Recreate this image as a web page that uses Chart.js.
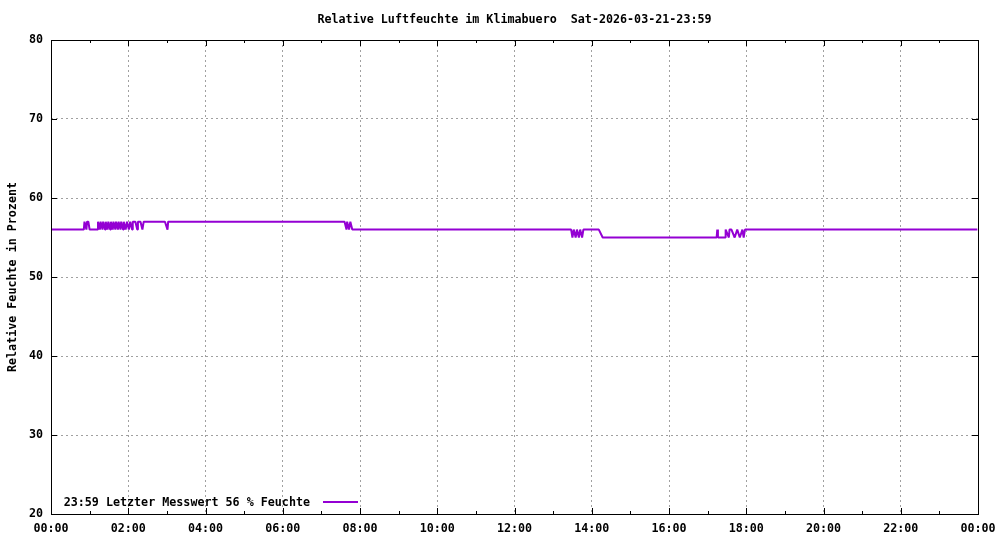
<!DOCTYPE html>
<html>
<head>
<meta charset="utf-8">
<script src="https://cdn.jsdelivr.net/npm/chart.js@4/dist/chart.umd.min.js"></script>
<style>
  html, body { margin: 0; padding: 0; background: #fff; }
  #wrap { width: 1000px; height: 540px; }
</style>
</head>
<body>
<div id="wrap"><canvas id="humChart"></canvas></div>
<script>
const chartTitle = "Relative Luftfeuchte im Klimabuero  Sat-2026-03-21-23:59";
const yTitle = "Relative Feuchte in Prozent";

// minutes since midnight and relative humidity in %
const sampleMinutes = [
  0, 51, 52, 55, 56, 58, 60,
  72, 73, 76, 77, 80, 81, 84, 85, 88, 89, 92, 93, 96, 97, 100, 101, 104, 105, 108, 109, 112,
  113, 116, 118, 121, 123, 126, 127, 131, 134, 135, 139, 142, 144,
  177, 181, 182,
  456, 459, 460, 463, 465, 468,
  808, 810, 812, 815, 817, 820, 822, 825, 827,
  851, 857,
  1034, 1035, 1036, 1047, 1048, 1053, 1054, 1057, 1062, 1066, 1070, 1074, 1076, 1078,
  1439
];
const humidity = [
  56, 56, 57, 56, 57, 57, 56,
  56, 57, 56, 57, 56, 57, 56, 57, 56, 57, 56, 57, 56, 57, 56, 57, 56, 57, 56, 57, 56,
  57, 56, 57, 56, 57, 56, 57, 57, 56, 57, 57, 56, 57,
  57, 56, 57,
  57, 56, 57, 56, 57, 56,
  56, 55, 56, 55, 56, 55, 56, 55, 56,
  56, 55,
  55, 56, 55, 55, 56, 55, 56, 56, 55, 56, 55, 56, 55, 56,
  56
];

const legendText = "Letzter Messwert";
const lineColor = "#9400d3";
const monoFont = '"DejaVu Sans Mono", "Liberation Mono", monospace';
const fontSize = 11.7;

function pad2(n){ return String(n).padStart(2, "0"); }
function fmtTime(m){ return pad2(Math.floor(m / 60) % 24) + ":" + pad2(Math.round(m % 60)); }

const points = sampleMinutes.map((m, i) => ({ x: m, y: humidity[i] }));

// title, frame, inward tick marks and legend, gnuplot style
const gnuplotDecor = {
  id: "gnuplotDecor",
  afterDraw(chart) {
    const ctx = chart.ctx;
    const a = chart.chartArea;
    const xs = chart.scales.x, ys = chart.scales.y;
    ctx.save();
    ctx.font = "bold " + fontSize + "px " + monoFont;
    ctx.fillStyle = "#000";
    ctx.textBaseline = "middle";
    ctx.textAlign = "center";
    ctx.fillText(chartTitle, (a.left + a.right) / 2, 20);

    ctx.strokeStyle = "#000";
    ctx.lineWidth = 1;
    ctx.strokeRect(Math.round(a.left) + 0.5, Math.round(a.top) + 0.5,
      Math.round(a.right) - Math.round(a.left), Math.round(a.bottom) - Math.round(a.top));

    ctx.beginPath();
    for (let h = 1; h < 24; h++) {
      const px = Math.round(xs.getPixelForValue(h * 60)) + 0.5;
      const len = h % 2 === 0 ? 6 : 3;
      ctx.moveTo(px, a.bottom); ctx.lineTo(px, a.bottom - len);
      ctx.moveTo(px, a.top); ctx.lineTo(px, a.top + len);
    }
    for (let v = 30; v < 80; v += 10) {
      const py = Math.round(ys.getPixelForValue(v)) + 0.5;
      ctx.moveTo(a.left, py); ctx.lineTo(a.left + 6, py);
      ctx.moveTo(a.right, py); ctx.lineTo(a.right - 6, py);
    }
    ctx.stroke();

    // legend
    const lastIdx = sampleMinutes.length - 1;
    const label = fmtTime(sampleMinutes[lastIdx]) + " " + legendText + " " + humidity[lastIdx] + " % Feuchte";
    ctx.textAlign = "right";
    ctx.fillText(label, 310, 503);
    ctx.strokeStyle = lineColor;
    ctx.lineWidth = 2;
    ctx.beginPath();
    ctx.moveTo(323, 502);
    ctx.lineTo(358, 502);
    ctx.stroke();
    ctx.restore();
  }
};

new Chart(document.getElementById("humChart"), {
  type: "line",
  data: {
    datasets: [{
      label: legendText,
      data: points,
      borderColor: lineColor,
      borderWidth: 2,
      borderJoinStyle: "bevel",
      pointRadius: 0,
      tension: 0,
      fill: false
    }]
  },
  options: {
    responsive: true,
    maintainAspectRatio: false,
    animation: false,
    layout: { padding: { top: 40, right: 22, bottom: 0, left: 0 } },
    plugins: {
      legend: { display: false },
      title: { display: false },
      tooltip: { enabled: false }
    },
    scales: {
      x: {
        type: "linear",
        min: 0,
        max: 1440,
        afterFit(scale) {
          scale.height = 26;
          scale.paddingLeft = 0;
          scale.paddingRight = 0;
        },
        ticks: {
          stepSize: 120,
          autoSkip: false,
          maxRotation: 0,
          padding: 8,
          color: "#000",
          font: { family: monoFont, size: fontSize, weight: "bold" },
          callback: v => fmtTime(v)
        },
        grid: { color: "#a0a0a0", lineWidth: 1, drawTicks: false },
        border: { display: false, dash: [2, 3] }
      },
      y: {
        min: 20,
        max: 80,
        afterFit(scale) {
          scale.width = 51;
          scale.paddingTop = 0;
          scale.paddingBottom = 0;
        },
        ticks: {
          stepSize: 10,
          padding: 8,
          color: "#000",
          font: { family: monoFont, size: fontSize, weight: "bold" }
        },
        grid: { color: "#a0a0a0", lineWidth: 1, drawTicks: false },
        border: { display: false, dash: [2, 3] },
        title: {
          display: true,
          text: yTitle,
          color: "#000",
          padding: { top: 6, bottom: 0 },
          font: { family: monoFont, size: fontSize, weight: "bold" }
        }
      }
    }
  },
  plugins: [gnuplotDecor]
});
</script>
</body>
</html>
